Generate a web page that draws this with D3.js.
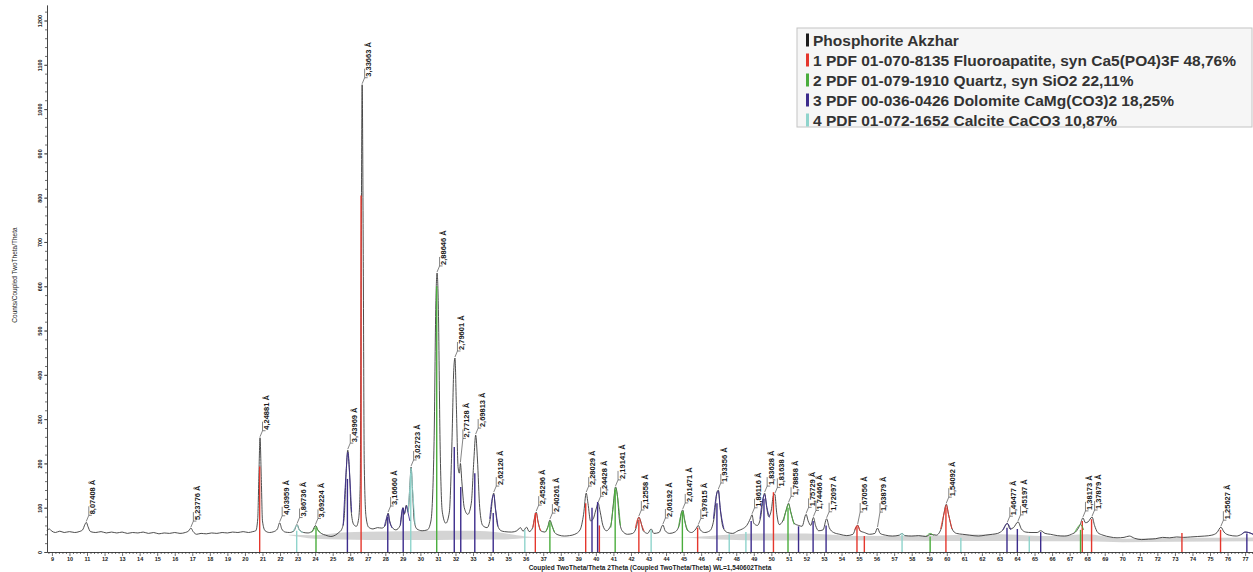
<!DOCTYPE html>
<html>
<head>
<meta charset="utf-8">
<script src="https://cdn.jsdelivr.net/npm/d3@7"></script>
<style>
  html, body { margin: 0; padding: 0; background: #fff; }
  svg { display: block; font-family: "Liberation Sans", Arial, sans-serif; }
</style>
</head>
<body>
<svg id="chart"></svg>
<script>
// ---- data ----
var xTicks = d3.range(9, 78)
  , yTicks = d3.range(0, 1300, 100)
  , legendLabels = [
        "Phosphorite Akzhar"
      , "1 PDF 01-070-8135 Fluoroapatite, syn Ca5(PO4)3F 48,76%"
      , "2 PDF 01-079-1910 Quartz, syn SiO2 22,11%"
      , "3 PDF 00-036-0426 Dolomite CaMg(CO3)2 18,25%"
      , "4 PDF 01-072-1652 Calcite CaCO3 10,87%"
    ]
;

// measured scan: [2theta, counts]
var pattern = [
    [8.72, 48], [8.85, 52], [9.0, 47], [9.2, 44], [9.45, 47], [9.7, 44], [10.0, 46], [10.3, 44],
    [10.55, 46], [10.75, 50], [10.88, 62], [10.96, 67], [11.05, 58], [11.2, 46], [11.5, 44], [11.8, 46],
    [12.1, 43], [12.4, 45], [12.7, 43], [13.0, 45], [13.3, 42], [13.6, 44], [13.9, 43], [14.2, 45],
    [14.5, 42], [14.8, 44], [15.1, 41], [15.4, 43], [15.7, 42], [16.0, 44], [16.3, 42], [16.6, 44],
    [16.8, 48], [16.92, 54], [17.05, 46], [17.25, 40], [17.5, 42], [17.8, 41], [18.1, 43], [18.4, 42],
    [18.7, 44], [19.0, 43], [19.3, 45], [19.6, 44], [19.9, 46], [20.2, 44], [20.45, 46], [20.62, 48],
    [20.73, 75], [20.8, 180], [20.86, 258], [20.93, 170], [21.0, 70], [21.15, 48], [21.4, 44], [21.65, 46],
    [21.85, 52], [21.98, 66], [22.1, 52], [22.3, 45], [22.55, 44], [22.8, 48], [22.97, 62], [23.1, 50],
    [23.35, 44], [23.6, 43], [23.85, 48], [24.02, 60], [24.15, 50], [24.35, 42], [24.6, 38], [24.9, 35],
    [25.15, 38], [25.35, 44], [25.5, 50], [25.65, 75], [25.77, 180], [25.86, 230], [25.95, 190], [26.05, 95],
    [26.2, 62], [26.35, 58], [26.48, 75], [26.57, 150], [26.63, 700], [26.68, 1055], [26.74, 700], [26.8, 200],
    [26.9, 80], [27.05, 56], [27.3, 52], [27.55, 55], [27.8, 54], [28.0, 60], [28.1, 80], [28.16, 88],
    [28.25, 70], [28.4, 55], [28.6, 50], [28.85, 60], [29.0, 100], [29.08, 85], [29.2, 106], [29.3, 90],
    [29.4, 150], [29.47, 192], [29.55, 140], [29.65, 70], [29.8, 52], [30.1, 48], [30.4, 50], [30.6, 70],
    [30.78, 250], [30.88, 560], [30.95, 630], [31.02, 560], [31.12, 250], [31.25, 90], [31.45, 65], [31.65, 90],
    [31.8, 250], [31.9, 410], [31.97, 438], [32.05, 330], [32.15, 190], [32.22, 178], [32.28, 200], [32.36, 160],
    [32.5, 100], [32.7, 85], [32.9, 110], [33.05, 210], [33.15, 264], [33.25, 210], [33.38, 100], [33.55, 60],
    [33.8, 55], [34.0, 80], [34.12, 125], [34.18, 133], [34.27, 100], [34.4, 60], [34.6, 48], [34.8, 46],
    [35.2, 45], [35.5, 48], [35.7, 55], [35.85, 47], [36.05, 56], [36.2, 46], [36.4, 55], [36.52, 80],
    [36.6, 90], [36.7, 70], [36.85, 48], [37.1, 45], [37.25, 55], [37.38, 72], [37.5, 60], [37.65, 44],
    [37.9, 38], [38.2, 36], [38.5, 37], [38.8, 40], [39.1, 50], [39.3, 85], [39.45, 133], [39.55, 110],
    [39.7, 70], [39.85, 75], [40.0, 95], [40.13, 110], [40.25, 90], [40.4, 60], [40.6, 48], [40.85, 60],
    [41.0, 110], [41.12, 147], [41.22, 130], [41.35, 70], [41.5, 48], [41.8, 40], [42.1, 42], [42.3, 55],
    [42.45, 79], [42.55, 70], [42.7, 48], [42.95, 42], [43.15, 52], [43.3, 42], [43.6, 44], [43.82, 61],
    [43.95, 48], [44.2, 42], [44.5, 45], [44.75, 60], [44.88, 90], [44.95, 95], [45.05, 75], [45.2, 50],
    [45.45, 44], [45.7, 52], [45.84, 60], [45.95, 50], [46.2, 44], [46.5, 48], [46.75, 80], [46.9, 135],
    [46.98, 140], [47.08, 100], [47.25, 55], [47.5, 44], [47.8, 42], [48.1, 48], [48.35, 52], [48.6, 60],
    [48.8, 75], [48.9, 84], [49.0, 65], [49.2, 60], [49.4, 80], [49.55, 125], [49.62, 133], [49.72, 105],
    [49.85, 80], [50.0, 95], [50.12, 128], [50.2, 130], [50.3, 90], [50.45, 62], [50.65, 70], [50.85, 95],
    [50.98, 110], [51.1, 92], [51.3, 65], [51.55, 60], [51.75, 58], [51.98, 85], [52.1, 70], [52.25, 60],
    [52.4, 78], [52.52, 60], [52.7, 48], [52.95, 50], [53.15, 75], [53.3, 55], [53.55, 44], [53.9, 40],
    [54.3, 37], [54.65, 40], [54.82, 55], [54.92, 61], [55.05, 48], [55.3, 44], [55.6, 40], [55.9, 42],
    [56.05, 54], [56.2, 42], [56.5, 38], [56.9, 36], [57.3, 38], [57.45, 42], [57.6, 37], [58.0, 36],
    [58.4, 37], [58.8, 35], [59.1, 40], [59.4, 38], [59.7, 55], [59.85, 90], [59.97, 108], [60.1, 85],
    [60.3, 52], [60.55, 42], [60.9, 40], [61.3, 38], [61.8, 36], [62.2, 38], [62.6, 40], [62.9, 42],
    [63.2, 50], [63.45, 65], [63.6, 52], [63.8, 55], [64.06, 68], [64.25, 52], [64.5, 45], [64.8, 44],
    [65.15, 44], [65.35, 48], [65.6, 42], [65.9, 40], [66.3, 37], [66.7, 36], [67.1, 40], [67.4, 48],
    [67.6, 62], [67.76, 77], [67.9, 66], [68.05, 68], [68.28, 79], [68.42, 60], [68.6, 44], [68.9, 38],
    [69.3, 34], [69.7, 32], [70.1, 33], [70.4, 36], [70.7, 31], [71.1, 28], [71.5, 29], [71.9, 30],
    [72.3, 33], [72.7, 32], [73.1, 34], [73.5, 33], [73.9, 34], [74.3, 35], [74.7, 36], [75.1, 38],
    [75.4, 44], [75.62, 56], [75.8, 45], [76.1, 38], [76.5, 36], [76.8, 40], [77.0, 45], [77.2, 44],
    [77.45, 40]
];

// grey background band: [2theta, lower counts, upper counts]
var bgBand = [
    [22.5, 38, 39], [24, 30, 38], [25.5, 28, 44], [27, 27, 46], [29, 27, 47], [31, 27, 48],
    [33, 28, 48], [34.5, 28, 44], [35.5, 30, 38], [36.5, 32, 34], [40, 33, 34], [45, 32, 33],
    [47, 28, 38], [49, 26, 42], [52, 26, 42], [55, 26, 36], [60, 25, 38], [63, 25, 40],
    [66, 24, 36], [68, 24, 40], [70, 22, 30], [73, 23, 32], [77.45, 24, 33]
];

// reference sticks per phase: [2theta, counts]
var apatiteSticks = [
    [20.84, 193], [26.62, 805], [36.55, 88], [39.42, 110], [40.2, 60], [42.45, 72], [45.8, 55],
    [50.12, 135], [54.88, 58], [55.3, 36], [59.95, 100], [67.72, 70], [68.25, 74], [73.4, 43], [75.6, 50]
];
var quartzSticks = [
    [24.05, 55], [30.93, 600], [37.38, 65], [41.1, 140], [44.93, 90], [50.95, 100], [59.05, 35], [67.62, 50]
];
var dolomiteSticks = [
    [25.84, 165], [28.14, 79], [29.02, 100], [31.93, 237], [32.3, 147], [33.1, 178], [34.15, 88],
    [39.78, 100], [40.1, 113], [46.9, 110], [48.85, 70], [49.58, 120], [51.55, 58], [52.38, 70],
    [53.12, 60], [63.43, 55], [64.02, 52], [65.35, 45], [77.1, 42]
];
var calciteSticks = [
    [22.95, 48], [29.45, 178], [35.95, 50], [43.15, 50], [47.6, 40], [48.55, 45], [57.45, 40],
    [60.8, 32], [64.7, 35]
];

// fitted phase profiles, only where they rise out of the background
var apatiteProfile = [
    [[36.4, 55], [36.52, 78], [36.6, 88], [36.7, 68], [36.85, 48]],
    [[42.25, 54], [42.4, 76], [42.45, 78], [42.6, 62], [42.75, 47]],
    [[54.75, 50], [54.9, 60], [55.05, 48]],
    [[59.65, 52], [59.85, 88], [59.97, 106], [60.1, 84], [60.3, 52]]
];
var quartzProfile = [
    [[23.8, 44], [23.95, 52], [24.05, 58], [24.15, 50], [24.3, 43]],
    [[37.15, 46], [37.3, 60], [37.38, 70], [37.48, 60], [37.65, 45]],
    [[40.85, 55], [41.0, 105], [41.12, 145], [41.22, 128], [41.4, 60]],
    [[44.7, 55], [44.88, 88], [44.95, 93], [45.05, 72], [45.25, 48]],
    [[50.7, 70], [50.85, 95], [50.98, 108], [51.1, 90], [51.3, 62]],
    [[58.85, 36], [59.05, 42], [59.25, 37]],
    [[67.3, 45], [67.5, 58], [67.62, 62], [67.8, 50]]
];
var dolomiteProfile = [
    [[25.6, 60], [25.75, 170], [25.86, 225], [25.95, 185], [26.08, 90]],
    [[27.95, 58], [28.08, 78], [28.16, 86], [28.25, 68], [28.4, 54]],
    [[28.85, 60], [29.0, 98], [29.1, 88], [29.2, 104], [29.3, 88], [29.4, 70]],
    [[33.95, 75], [34.1, 122], [34.18, 130], [34.28, 98], [34.42, 58]],
    [[46.7, 75], [46.88, 130], [46.98, 138], [47.1, 95], [47.3, 52]],
    [[49.35, 75], [49.52, 120], [49.62, 130], [49.75, 100], [49.9, 78]],
    [[63.2, 50], [63.45, 64], [63.65, 50]],
    [[76.8, 40], [77.0, 45], [77.2, 44], [77.45, 40]]
];
var calciteProfile = [
    [[22.75, 47], [22.9, 58], [22.97, 61], [23.08, 50], [23.3, 44]],
    [[29.3, 90], [29.4, 148], [29.47, 190], [29.56, 138], [29.7, 62]],
    [[57.3, 38], [57.45, 42], [57.6, 37]]
];

// d-spacing labels: [2theta, counts at peak top, text]
var peakLabels = [
    [10.96, 67, "8,07408"], [16.92, 54, "5,23776"], [20.86, 258, "4,24881"], [21.98, 66, "4,03959"],
    [22.97, 62, "3,86736"], [24.02, 60, "3,69224"], [25.86, 230, "3,43969"], [26.68, 1055, "3,33663"],
    [28.16, 88, "3,16660"], [29.47, 192, "3,02723"], [30.95, 630, "2,88646"], [31.97, 438, "2,79601"],
    [32.28, 200, "2,77128"], [33.15, 264, "2,69813"], [34.18, 133, "2,62120"], [36.6, 90, "2,45296"],
    [37.38, 72, "2,40261"], [39.45, 133, "2,28029"], [40.13, 110, "2,24428"], [41.12, 147, "2,19141"],
    [42.45, 79, "2,12558"], [43.82, 61, "2,06192"], [44.95, 95, "2,01471"], [45.84, 60, "1,97815"],
    [46.98, 140, "1,93356"], [48.9, 84, "1,86116"], [49.62, 133, "1,83628"], [50.2, 130, "1,81638"],
    [50.98, 110, "1,78858"], [51.98, 85, "1,75729"], [52.4, 78, "1,74466"], [53.15, 75, "1,72097"],
    [54.92, 61, "1,67056"], [56.05, 54, "1,63879"], [59.97, 108, "1,54092"], [63.45, 65, "1,46477"],
    [64.06, 68, "1,45197"], [67.76, 77, "1,38173"], [68.28, 79, "1,37879"], [75.62, 56, "1,25627"]
];

// ---- styles / layout ----
var width = 1253
  , height = 572
  , phaseColors = ["#1c1c1c", "#e5372d", "#4aad3c", "#3c2c8c", "#8fd4cc"]
  , labelLift = { "2,77128": 18, "1,63879": 9, "1,67056": 6 }
  , x = d3.scaleLinear().domain([8.72, 77.45]).range([47, 1253])
  , y = d3.scaleLinear().domain([0, 1235]).range([552, 5])
  , line = d3.line()
        .x(function(d) { return x(d[0]); })
        .y(function(d) { return y(d[1]); })
        .curve(d3.curveMonotoneX)
  , svg = d3.select("#chart").attr("width", width).attr("height", height)
;

function drawBackground() {
    var area = d3.area()
        .x(function(d) { return x(d[0]); })
        .y0(function(d) { return y(d[1]); })
        .y1(function(d) { return y(d[2]); })
        .curve(d3.curveMonotoneX)
    ;
    svg.append("path")
        .datum(bgBand)
        .attr("d", area)
        .attr("fill", "#cdcdcd")
        .attr("fill-opacity", 0.85)
    ;
} // drawBackground()

function drawAxes() {
    var minorX = d3.range(8.8, 77.45, 0.2).filter(function(v) {
            return Math.abs(v - Math.round(v)) > 0.01;
        })
      , gx = svg.append("g").attr("transform", "translate(0," + y(0) + ")")
      , gy = svg.append("g").attr("transform", "translate(" + x.range()[0] + ",0)")
    ;
    gx.append("g")
        .call(d3.axisBottom(x).tickValues(minorX).tickSize(2).tickSizeOuter(0).tickFormat(""))
    ;
    gx.append("g")
        .call(d3.axisBottom(x).tickValues(xTicks).tickSize(4).tickSizeOuter(0).tickFormat(d3.format("d")))
      .selectAll("text")
        .attr("y", 5)
        .attr("font-size", "5.5px")
        .attr("font-weight", "bold")
        .attr("fill", "#222")
    ;
    gy.append("g")
        .call(d3.axisLeft(y).tickValues(d3.range(0, 1235, 20)).tickSize(2).tickSizeOuter(0).tickFormat(""))
    ;
    gy.append("g")
        .call(d3.axisLeft(y).tickValues(yTicks).tickSize(3).tickSizeOuter(0).tickFormat(d3.format("d")))
      .selectAll("text")
        .attr("transform", "rotate(-90)")
        .attr("x", 0)
        .attr("y", -5)
        .attr("dy", 0)
        .attr("text-anchor", "middle")
        .attr("font-size", "5.5px")
        .attr("font-weight", "bold")
        .attr("fill", "#222")
    ;
    svg.selectAll(".domain, .tick line")
        .attr("stroke", "#333")
        .attr("stroke-width", 0.7)
    ;
    svg.append("text")
        .attr("x", 650)
        .attr("y", 570)
        .attr("text-anchor", "middle")
        .attr("font-size", "6.5px")
        .attr("font-weight", "bold")
        .attr("fill", "#222")
        .text("Coupled TwoTheta/Theta 2Theta (Coupled TwoTheta/Theta) WL=1,540602Theta")
    ;
    svg.append("text")
        .attr("transform", "translate(17,275) rotate(-90)")
        .attr("text-anchor", "middle")
        .attr("font-size", "6.5px")
        .attr("fill", "#222")
        .text("Counts/Coupled TwoTheta/Theta")
    ;
} // drawAxes()

function drawSticks(data, color) {
    svg.append("g")
      .selectAll("line")
        .data(data)
      .enter().append("line")
        .attr("x1", function(d) { return x(d[0]); })
        .attr("x2", function(d) { return x(d[0]); })
        .attr("y1", y(0))
        .attr("y2", function(d) { return y(d[1]); })
        .attr("stroke", color)
        .attr("stroke-width", 1.4)
    ;
} // drawSticks()

function drawProfile(segments, color) {
    svg.append("g")
      .selectAll("path")
        .data(segments)
      .enter().append("path")
        .attr("d", line)
        .attr("fill", "none")
        .attr("stroke", color)
        .attr("stroke-width", 1)
        .attr("stroke-opacity", 0.9)
    ;
} // drawProfile()

function drawPattern() {
    svg.append("path")
        .datum(pattern)
        .attr("d", line)
        .attr("fill", "none")
        .attr("stroke", "#3a3a3a")
        .attr("stroke-width", 0.9)
    ;
} // drawPattern()

function drawLabels() {
    var g = svg.append("g").selectAll("g")
        .data(peakLabels)
      .enter().append("g")
        .attr("transform", function(d) {
            return "translate(" + x(d[0]) + "," + y(d[1]) + ")";
        })
    ;
    g.append("path")
        .attr("d", function(d) {
            var b = -7 - (labelLift[d[2]] || 0);
            return "M0,-1L2.5," + b + "L2.5," + (b - 9) + "M2.5," + b + "L5.5," + b;
        })
        .attr("fill", "none")
        .attr("stroke", "#333")
        .attr("stroke-width", 0.6)
    ;
    g.append("text")
        .attr("transform", function(d) {
            var b = -8 - (labelLift[d[2]] || 0);
            return "translate(9," + b + ") rotate(-90)";
        })
        .attr("font-size", "7.5px")
        .attr("font-weight", "bold")
        .attr("fill", "#1a1a1a")
        .text(function(d) { return d[2] + " Å"; })
    ;
} // drawLabels()

function drawLegend() {
    var g = svg.append("g").attr("transform", "translate(797,28)");
    g.append("rect")
        .attr("width", 455)
        .attr("height", 99)
        .attr("fill", "#f6f6f6")
        .attr("stroke", "#c4c4c4")
    ;
    var row = g.selectAll("g.row")
        .data(legendLabels)
      .enter().append("g")
        .attr("class", "row")
        .attr("transform", function(d, i) { return "translate(0," + (12 + i * 20) + ")"; })
    ;
    row.append("rect")
        .attr("x", 9)
        .attr("y", -6.5)
        .attr("width", 3)
        .attr("height", 13)
        .attr("fill", function(d, i) { return phaseColors[i]; })
    ;
    row.append("text")
        .attr("x", 16)
        .attr("dy", "0.36em")
        .attr("font-size", "15.5px")
        .attr("font-weight", "bold")
        .attr("fill", "#333")
        .text(function(d) { return d; })
    ;
} // drawLegend()

drawBackground();
drawAxes();
drawPattern();
drawSticks(apatiteSticks, phaseColors[1]);
drawSticks(quartzSticks, phaseColors[2]);
drawSticks(dolomiteSticks, phaseColors[3]);
drawSticks(calciteSticks, phaseColors[4]);
drawProfile(apatiteProfile, phaseColors[1]);
drawProfile(quartzProfile, phaseColors[2]);
drawProfile(dolomiteProfile, phaseColors[3]);
drawProfile(calciteProfile, phaseColors[4]);
drawLabels();
drawLegend();
</script>
</body>
</html>
